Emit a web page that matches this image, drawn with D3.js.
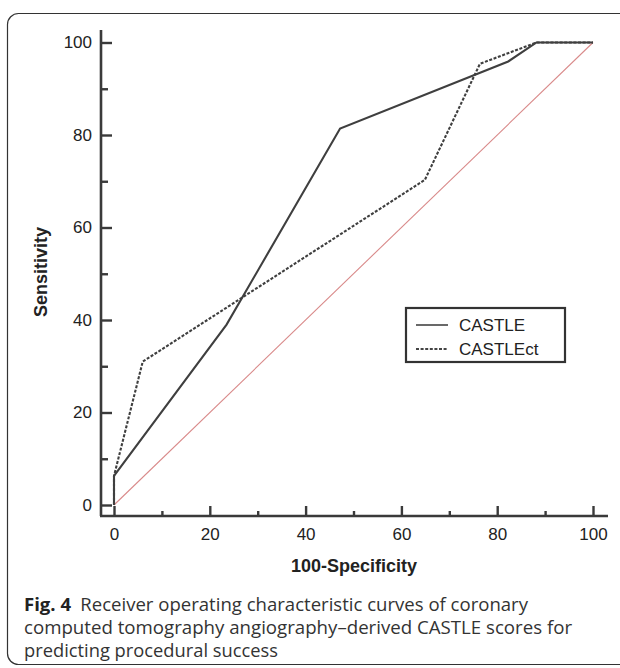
<!DOCTYPE html>
<html lang="en">
<head>
<meta charset="UTF-8">
<title>ROC CASTLE</title>
<script src="https://cdn.jsdelivr.net/npm/d3@7"></script>
<style>
    body { margin: 0; background: #fff; }
    .tick text { font-family: Arial, "Liberation Sans", sans-serif; font-size: 17px; fill: #222; }
    .caption { font-family: "Open Sans", sans-serif; font-size: 18.5px; fill: #333; }
</style>
</head>
<body>
<script>
    // data
    var majorTicks = [0, 20, 40, 60, 80, 100];
    var minorTicks = [10, 30, 50, 70, 90];
    var castleX = [0, 0, 23.5, 47.2, 82.3, 88.2, 100];
    var castleY = [0, 6.3, 39, 81.4, 95.9, 100, 100];
    var castleCtX = [0, 0, 6.0, 64.9, 76.4, 88.2, 100];
    var castleCtY = [0, 6.3, 31.0, 70.3, 95.4, 100, 100];
    var refX = [0, 100];
    var refY = [0, 100];
    var seriesNames = ['CASTLE', 'CASTLEct'];
    var captionLines = [
        'Receiver operating characteristic curves of coronary',
        'computed tomography angiography\u2013derived CASTLE scores for',
        'predicting procedural success'
    ];

    var width = 620, height = 668;
    var axisColor = '#3a3a3a';

    var svg = d3.select('body').append('svg')
        .attr('width', width)
        .attr('height', height);

    // frame
    svg.append('rect')
        .attr('x', 7.5).attr('y', 13.5)
        .attr('width', 640).attr('height', 651)
        .attr('rx', 11).attr('ry', 11)
        .attr('fill', 'none')
        .attr('stroke', '#333')
        .attr('stroke-width', 1.2);

    var x = d3.scaleLinear().domain([0, 100]).range([114, 593]);
    var y = d3.scaleLinear().domain([0, 100]).range([505, 42.5]);

    var xAxisY = 516, yAxisX = 101;

    // axes
    var gx = svg.append('g').attr('transform', 'translate(0,' + xAxisY + ')')
        .call(d3.axisBottom(x).tickValues(majorTicks).tickSizeInner(-10).tickSizeOuter(0).tickPadding(12));
    var gxm = svg.append('g').attr('transform', 'translate(0,' + xAxisY + ')')
        .call(d3.axisBottom(x).tickValues(minorTicks).tickSizeInner(-5).tickSizeOuter(0).tickFormat(''));
    var gy = svg.append('g').attr('transform', 'translate(' + yAxisX + ',0)')
        .call(d3.axisLeft(y).tickValues(majorTicks).tickSizeInner(-11).tickSizeOuter(0).tickPadding(9));
    var gym = svg.append('g').attr('transform', 'translate(' + yAxisX + ',0)')
        .call(d3.axisLeft(y).tickValues(minorTicks).tickSizeInner(-7).tickSizeOuter(0).tickFormat(''));

    [gx, gxm, gy, gym].forEach(function (g) {
        g.select('.domain').remove();
        g.selectAll('.tick line').attr('stroke', axisColor).attr('stroke-width', 2.4);
    });
    gy.selectAll('.tick text').attr('x', -9);

    svg.append('line')
        .attr('x1', 100).attr('x2', 608)
        .attr('y1', xAxisY).attr('y2', xAxisY)
        .attr('stroke', axisColor).attr('stroke-width', 2.6);
    svg.append('line')
        .attr('x1', yAxisX).attr('x2', yAxisX)
        .attr('y1', 30).attr('y2', xAxisY)
        .attr('stroke', axisColor).attr('stroke-width', 2.6);

    // axis titles
    svg.append('text')
        .attr('x', 354).attr('y', 572)
        .attr('text-anchor', 'middle')
        .style('font-family', 'Arial, "Liberation Sans", sans-serif')
        .style('font-size', '18px').style('font-weight', 'bold').style('fill', '#222')
        .text('100-Specificity');
    svg.append('text')
        .attr('transform', 'translate(47,272) rotate(-90)')
        .attr('text-anchor', 'middle')
        .style('font-family', 'Arial, "Liberation Sans", sans-serif')
        .style('font-size', '18px').style('font-weight', 'bold').style('fill', '#222')
        .text('Sensitivity');

    // curves
    function pts(xs, ys) {
        return xs.map(function (d, i) { return [d, ys[i]]; });
    }
    var line = d3.line()
        .x(function (d) { return x(d[0]); })
        .y(function (d) { return y(d[1]); });

    svg.append('path')
        .datum(pts(refX, refY))
        .attr('d', line)
        .attr('fill', 'none')
        .attr('stroke', '#d98a8a')
        .attr('stroke-width', 1.1);

    svg.append('path')
        .datum(pts(castleCtX, castleCtY))
        .attr('d', line)
        .attr('fill', 'none')
        .attr('stroke', '#3f3f3f')
        .attr('stroke-width', 2.1)
        .attr('stroke-dasharray', '3,1.6');

    svg.append('path')
        .datum(pts(castleX, castleY))
        .attr('d', line)
        .attr('fill', 'none')
        .attr('stroke', '#3f3f3f')
        .attr('stroke-width', 2.1);

    // legend
    var lg = svg.append('g').attr('transform', 'translate(406,308)');
    lg.append('rect')
        .attr('width', 159).attr('height', 54)
        .attr('fill', '#fff')
        .attr('stroke', '#333')
        .attr('stroke-width', 2.2);
    seriesNames.forEach(function (name, i) {
        var yy = 17 + i * 24;
        lg.append('line')
            .attr('x1', 10).attr('x2', 42)
            .attr('y1', yy).attr('y2', yy)
            .attr('stroke', '#444')
            .attr('stroke-width', i === 0 ? 1.6 : 1.8)
            .attr('stroke-dasharray', i === 0 ? null : '3,1.6');
        lg.append('text')
            .attr('x', 53).attr('y', yy + 6)
            .style('font-family', 'Arial, "Liberation Sans", sans-serif')
            .style('font-size', '17px').style('fill', '#222')
            .text(name);
    });

    // caption (widths fitted to the original condensed face)
    var capX = 24, capY = 611, capStep = 23;
    var capWidths = [504, 548, 254];
    var l1 = svg.append('text').attr('class', 'caption')
        .attr('x', capX).attr('y', capY)
        .attr('textLength', capWidths[0]).attr('lengthAdjust', 'spacingAndGlyphs');
    l1.append('tspan').style('font-weight', 'bold').style('fill', '#222').text('Fig. 4');
    l1.append('tspan').text('\u2002' + captionLines[0]);
    captionLines.slice(1).forEach(function (t, i) {
        svg.append('text').attr('class', 'caption')
            .attr('x', capX).attr('y', capY + (i + 1) * capStep)
            .attr('textLength', capWidths[i + 1]).attr('lengthAdjust', 'spacingAndGlyphs')
            .text(t);
    });
</script>
</body>
</html>
